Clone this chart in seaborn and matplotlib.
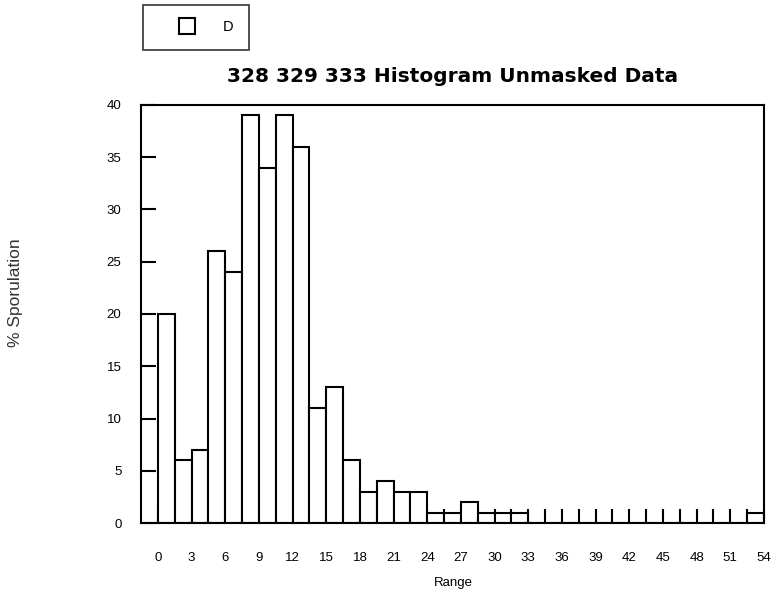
import numpy as np
import pandas as pd
import matplotlib
matplotlib.use("Agg")
import matplotlib.pyplot as plt
from matplotlib.lines import Line2D
import seaborn as sns

# ---- data ----
bin_width = 1.5
bin_starts = [0, 1.5, 3, 4.5, 6, 7.5, 9, 10.5, 12, 13.5, 15, 16.5, 18, 19.5,
              21, 22.5, 24, 25.5, 27, 28.5, 30, 31.5, 33, 34.5, 36, 37.5, 39,
              40.5, 42, 43.5, 45, 46.5, 48, 49.5, 51, 52.5]
counts = [20, 6, 7, 26, 24, 39, 34, 39, 36, 11, 13, 6, 3, 4,
          3, 3, 1, 1, 2, 1, 1, 1, 0, 0, 0, 0, 0,
          0, 0, 0, 0, 0, 0, 0, 0, 1]
xtick_values = [0, 3, 6, 9, 12, 15, 18, 21, 24, 27, 30, 33, 36, 39, 42, 45, 48, 51, 54]
ytick_values = [0, 5, 10, 15, 20, 25, 30, 35, 40]
series_name = "D"
title = "328 329 333 Histogram Unmasked Data"
xlabel = "Range"
ylabel = "% Sporulation"

# bin centres so every value lands inside its own bin
df = pd.DataFrame({"value": [s + bin_width / 2 for s in bin_starts],
                   "count": counts})

sns.set_style("white")
plt.rcParams["font.family"] = ["Liberation Sans", "DejaVu Sans"]

W, H = 774, 593
fig = plt.figure(figsize=(W / 100, H / 100), dpi=100)
ax = fig.add_axes([141 / W, 1 - 523 / H, (764 - 141) / W, (523 - 105) / H])

sns.histplot(data=df, x="value", weights="count",
             binwidth=bin_width, binrange=(bin_starts[0], bin_starts[-1] + bin_width),
             ax=ax, stat="count", element="bars", fill=True,
             color="white", edgecolor="black", linewidth=1.5, alpha=1)

ax.set_xlim(-1.5, 54)
ax.set_ylim(0, 40)
ax.set_xticks(xtick_values)
ax.set_xticklabels([str(v) for v in xtick_values])
ax.set_xticks(np.array(bin_starts[1:]), minor=True)
ax.set_yticks(ytick_values)
ax.set_yticklabels([str(v) for v in ytick_values])
ax.tick_params(axis="x", which="both", direction="in", length=10, width=1.5,
               color="black", labelsize=9.5, pad=21, bottom=True, top=False)
ax.tick_params(axis="y", which="major", direction="in", length=11, width=1.5,
               color="black", labelsize=9.5, pad=14, left=True)
for lab in ax.get_xticklabels() + ax.get_yticklabels():
    lab.set_color("black")
for s in ax.spines.values():
    s.set_visible(True)
    s.set_color("black")
    s.set_linewidth(1.5)
ax.set_xlabel("")
ax.set_ylabel("")

fig.text(453 / W, 1 - 77 / H, title, ha="center", va="center",
         fontsize=14.5, fontweight="bold", family=["DejaVu Sans"], color="black")
fig.text(453 / W, 1 - 583 / H, xlabel, ha="center", va="center",
         fontsize=9.5, color="black")
fig.text(16 / W, 1 - 293 / H, ylabel, ha="center", va="center",
         rotation=90, fontsize=12.5, color="#333333")

handle = Line2D([], [], linestyle="none", marker="s", markersize=11,
                markerfacecolor="white", markeredgecolor="black",
                markeredgewidth=1.5)
leg = fig.legend([handle], [series_name], loc="upper left",
                 bbox_to_anchor=(143 / W, 1 - 5 / H),
                 bbox_transform=fig.transFigure,
                 frameon=True, fancybox=False, fontsize=10.5,
                 borderpad=1.05, handletextpad=0.45, borderaxespad=0,
                 handlelength=4.0)
leg.get_frame().set_edgecolor("black")
leg.get_frame().set_linewidth(1.2)
leg.get_frame().set_facecolor("white")
for t in leg.get_texts():
    t.set_color("black")

fig.savefig("out.png", dpi=100)
